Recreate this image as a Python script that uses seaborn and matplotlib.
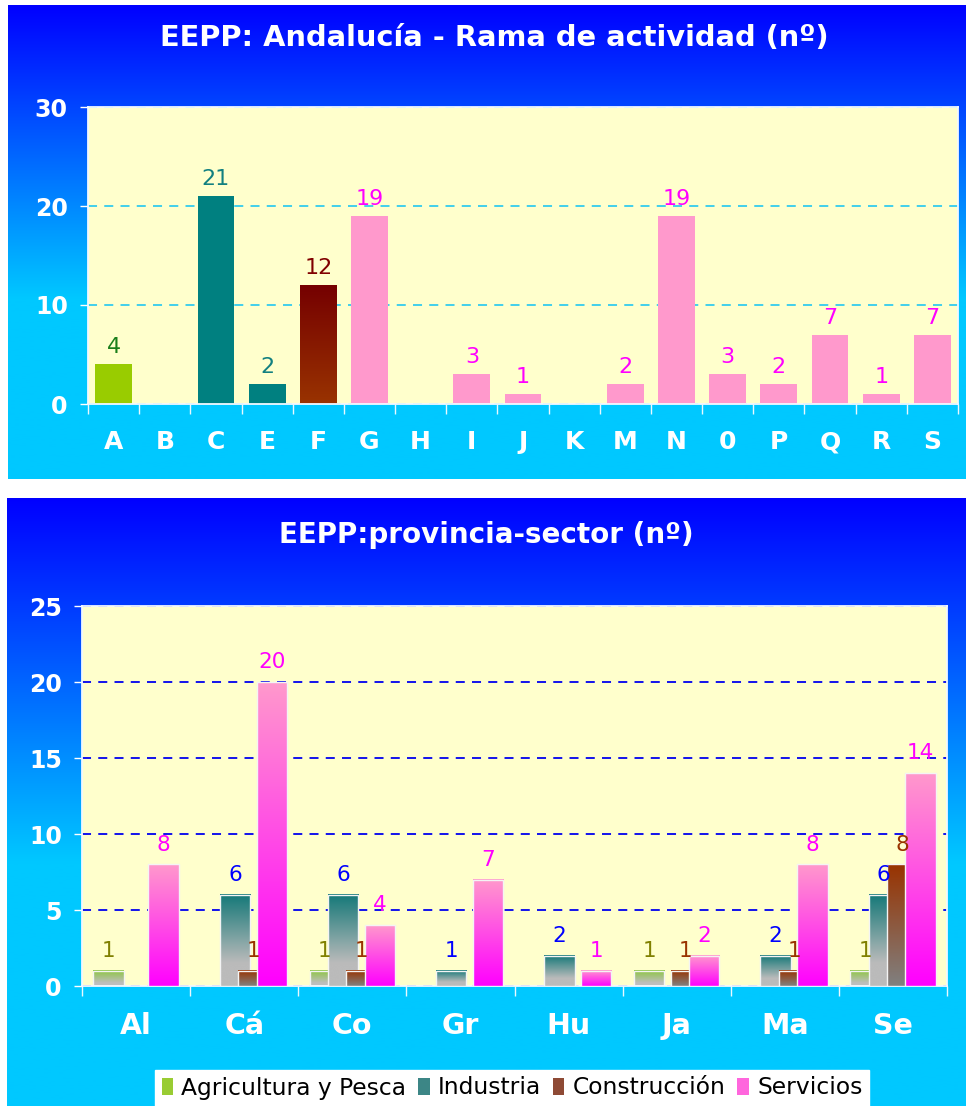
import numpy as np
import pandas as pd
import matplotlib
matplotlib.use("Agg")
import matplotlib.pyplot as plt
import seaborn as sns
from matplotlib.colors import LinearSegmentedColormap, to_rgb
from matplotlib.patches import Patch

# ---------------- data ----------------
ramas = ["A", "B", "C", "E", "F", "G", "H", "I", "J", "K", "M", "N", "0", "P", "Q", "R", "S"]
ramas_n = [4, 0, 21, 2, 12, 19, 0, 3, 1, 0, 2, 19, 3, 2, 7, 1, 7]
ramas_sector = ["Agricultura", "Industria", "Industria", "Industria", "Construcción",
                "Servicios", "Servicios", "Servicios", "Servicios", "Servicios", "Servicios",
                "Servicios", "Servicios", "Servicios", "Servicios", "Servicios", "Servicios"]

provincias = ["Al", "Cá", "Co", "Gr", "Hu", "Ja", "Ma", "Se"]
agricultura = [1, 0, 1, 0, 0, 1, 0, 1]
industria = [0, 6, 6, 1, 2, 0, 2, 6]
construccion = [0, 1, 1, 0, 0, 1, 1, 8]
servicios = [8, 20, 4, 7, 1, 2, 8, 14]
series_names = ["Agricultura y Pesca", "Industria", "Construcción", "Servicios"]

title_top = "EEPP: Andalucía - Rama de actividad (nº)"
title_bot = "EEPP:provincia-sector (nº)"

# ---------------- style ----------------
W, H = 966, 1106
sns.set_theme(style="white")
plt.rcParams["font.family"] = ["DejaVu Sans"]

fig = plt.figure(figsize=(W / 100, H / 100), dpi=100)
fig.patch.set_facecolor("white")

BLUE = np.array(to_rgb("#0000FF"))
CYAN = np.array(to_rgb("#00C8FF"))


def fr(x0, y0, x1, y1):
    """pixel box (top-left origin) -> figure fraction rect"""
    return [x0 / W, 1 - y1 / H, (x1 - x0) / W, (y1 - y0) / H]


def panel(rect, reach):
    bg = fig.add_axes(rect, zorder=-10)
    bg.set_axis_off()
    t = np.linspace(0, 1, 400)
    f = np.clip(t / reach, 0, 1)
    img = BLUE[None, :] * (1 - f[:, None]) + CYAN[None, :] * f[:, None]
    bg.imshow(img[:, None, :], aspect="auto", extent=(0, 1, 0, 1), origin="upper",
              interpolation="bilinear")
    bg.set_xlim(0, 1)
    bg.set_ylim(0, 1)


panel(fr(8, 5, 966, 479), 0.62)
panel(fr(7, 498, 966, 1106), 0.60)


def gradient_bar(ax, patch, top, bottom, stop=1.0, z=2.0):
    h = patch.get_height()
    if h <= 0:
        patch.set_visible(False)
        return
    x0, y0, w = patch.get_x(), patch.get_y(), patch.get_width()
    cmap = LinearSegmentedColormap.from_list(
        "g", [(0.0, bottom), (1 - stop, bottom), (1.0, top)] if stop < 1 else [(0, bottom), (1, top)])
    grad = np.linspace(0, 1, 256).reshape(-1, 1)
    ax.imshow(grad, extent=(x0, x0 + w, y0, y0 + h), origin="lower", aspect="auto",
              cmap=cmap, zorder=z + 0.01, interpolation="bicubic")
    patch.set_facecolor("none")
    patch.set_zorder(z + 0.02)


def style_axes(ax, ylim, yticks, grid_color, n):
    ax.set_facecolor("#FFFFCC")
    ax.set_xlim(-0.5, n - 0.5)
    ax.set_ylim(*ylim)
    ax.set_yticks(yticks)
    ax.set_axisbelow(True)
    ax.yaxis.grid(True, linestyle=(0, (5, 4)), color=grid_color, linewidth=1.3)
    ax.xaxis.grid(False)
    for s in ax.spines.values():
        s.set_visible(True)
        s.set_color("#F2F8FF")
        s.set_linewidth(1.3)
    ax.set_xticks(np.arange(-0.5, n, 1), minor=True)
    ax.tick_params(axis="x", which="minor", length=7, width=1, color="#EAF8FF", direction="out",
                   bottom=True)
    ax.tick_params(axis="y", which="major", length=6, width=1, color="white", direction="out",
                   left=True, pad=8.5, labelsize=17, labelcolor="white")
    for lab in ax.get_yticklabels():
        lab.set_fontweight("bold")
    ax.set_xlabel("")
    ax.set_ylabel("")


# ---------------- top chart ----------------
ax1 = fig.add_axes(fr(88, 107, 958, 404))
sector_fill = {"Agricultura": "#99CC00", "Industria": "#008080",
               "Construcción": "#8B1500", "Servicios": "#FF99CC"}
sector_text = {"Agricultura": "#1A7F1A", "Industria": "#128080",
               "Construcción": "#800000", "Servicios": "#FF00FF"}
df1 = pd.DataFrame({"rama": ramas, "n": ramas_n, "sector": ramas_sector})
pal1 = {r: sector_fill[s] for r, s in zip(ramas, ramas_sector)}
sns.barplot(data=df1, x="rama", y="n", hue="rama", palette=pal1, order=ramas,
            width=0.72, legend=False, saturation=1, linewidth=0, ax=ax1)
style_axes(ax1, (0, 30), [0, 10, 20, 30], "#33CCEE", len(ramas))
ax1.tick_params(axis="x", which="major", length=0, pad=19, labelsize=18, labelcolor="white")
for lab in ax1.get_xticklabels():
    lab.set_fontweight("bold")

for cont, r, s, v in zip(ax1.containers, ramas, ramas_sector, ramas_n):
    for p in cont.patches:
        if v <= 0:
            p.set_visible(False)
        elif s == "Construcción":
            gradient_bar(ax1, p, "#750000", "#993300")
    ax1.bar_label(cont, labels=[str(v) if v else ""], padding=5.0, fontsize=16,
                  color=sector_text[s])
ax1.set_xlim(-0.5, len(ramas) - 0.5)
ax1.set_ylim(0, 30)

fig.text(494 / W, 1 - 38 / H, title_top, ha="center", va="center", color="white",
         fontsize=20.8, fontweight="bold")

# ---------------- bottom chart ----------------
ax2 = fig.add_axes(fr(82, 606, 947, 986))
pos = np.arange(len(provincias))
offsets = [-0.255, -0.085, 0.085, 0.255]
series_vals = [agricultura, industria, construccion, servicios]
grad_cols = [("#8CC63F", "#BEBEBE", 0.8), ("#147878", "#BBBBBB", 0.75),
             ("#993300", "#808080", 1.0), ("#FF99CC", "#FF00FF", 1.0)]
label_cols = ["#808000", "#0000FF", "#993300", "#FF00FF"]
legend_cols = ["#99CC33", "#3C8686", "#8E4A35", "#FF66DD"]

for i, (vals, off) in enumerate(zip(series_vals, offsets)):
    sns.barplot(x=pos + off, y=vals, native_scale=True, orient="x", width=0.28,
                color=grad_cols[i][0], saturation=1, edgecolor="#F4F4F4", linewidth=1.0,
                ax=ax2)
    cont = ax2.containers[-1]
    for p in cont.patches:
        gradient_bar(ax2, p, grad_cols[i][0], grad_cols[i][1], grad_cols[i][2], z=2 + i)
    ax2.bar_label(cont, labels=[str(v) if v else "" for v in vals], padding=7,
                  fontsize=15.5, color=label_cols[i], zorder=10)

style_axes(ax2, (0, 25), [0, 5, 10, 15, 20, 25], "#0000EE", len(provincias))
ax2.set_xticks(pos)
ax2.set_xticklabels(provincias)
ax2.tick_params(axis="x", which="major", length=0, pad=19, labelsize=20.5, labelcolor="white")
for lab in ax2.get_xticklabels():
    lab.set_fontweight("bold")
ax2.set_xlim(-0.5, len(provincias) - 0.5)
ax2.set_ylim(0, 25)

fig.text(486 / W, 1 - 535 / H, title_bot, ha="center", va="center", color="white",
         fontsize=20, fontweight="bold")

handles = [Patch(facecolor=c, edgecolor="none") for c in legend_cols]
leg = fig.legend(handles, series_names, loc="center", bbox_to_anchor=(512 / W, 1 - 1088 / H),
                 ncol=4, fontsize=16.8, frameon=True, fancybox=False, framealpha=1,
                 handlelength=0.5, handleheight=0.7, handletextpad=0.35, columnspacing=0.5,
                 borderpad=0.3, borderaxespad=0, labelcolor="black")
leg.get_frame().set_facecolor("white")
leg.get_frame().set_edgecolor("white")

fig.savefig("out.png", dpi=100, facecolor="white")
